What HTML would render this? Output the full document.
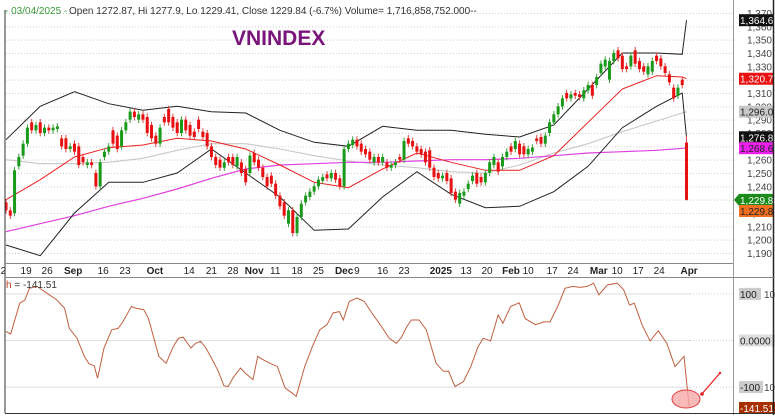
<!DOCTYPE html>
<html><head><meta charset="utf-8">
<style>
html,body{margin:0;padding:0;background:#fff;}
body{width:775px;height:415px;overflow:hidden;font-family:"Liberation Sans",sans-serif;}
svg text{font-family:"Liberation Sans",sans-serif;}
</style></head>
<body>
<svg id="chart" width="775" height="415" viewBox="0 0 775 415" xmlns="http://www.w3.org/2000/svg">
  <rect x="0" y="0" width="775" height="415" fill="#fff"/>
  <g id="grid"></g>
  <g id="oscgrid"></g>
  <g id="lines"></g>
  <g id="candles"></g>
  <g id="osc"></g>
  <g id="axis"></g>
  <g id="labels"></g>
  <line x1="5" y1="10" x2="5" y2="413" stroke="#333" stroke-width="1"/>
  <line x1="733.5" y1="0" x2="733.5" y2="415" stroke="#999" stroke-width="1"/>
  <line x1="773.5" y1="0" x2="773.5" y2="415" stroke="#222" stroke-width="1.5"/>
  <line x1="5" y1="263.5" x2="733" y2="263.5" stroke="#888" stroke-width="1"/>
  <line x1="5" y1="277.5" x2="775" y2="277.5" stroke="#888" stroke-width="1"/>
  <line x1="5" y1="413.5" x2="775" y2="413.5" stroke="#333" stroke-width="1"/>
  <text x="5" y="14" font-size="10" fill="#3a9a3a">- 03/04/2025 -</text>
  <text x="69" y="14" font-size="10" fill="#333">Open 1272.87, Hi 1277.9, Lo 1229.41, Close 1229.84 (-6.7%) Volume= 1,716,858,752.000--</text>
  <text x="232" y="45" font-size="21" font-weight="bold" fill="#7a147a">VNINDEX</text>
  <text x="6" y="288" font-size="10" fill="#333"><tspan fill="#c04020">h</tspan> = -141.51</text>
  <ellipse cx="686" cy="399" rx="14" ry="9" fill="#f6a8a8" fill-opacity="0.8" stroke="#e04040" stroke-width="1"/>
  <line x1="701" y1="395" x2="720" y2="373" stroke="#e02020" stroke-width="1.2"/>
  <circle cx="702" cy="394" r="1.8" fill="#e02020"/>
  <circle cx="720" cy="373" r="1.2" fill="#e02020"/>
</svg>
<script>
const opens=[1228,1222,1220,1255,1263,1272,1288,1282,1288,1280,1284,1282,1283,1276,1276,1268,1272,1270,1262,1256,1258,1250,1240,1262,1266,1282,1278,1270,1282,1290,1296,1290,1294,1292,1286,1278,1272,1292,1298,1292,1288,1280,1290,1286,
1281,1290,1281,1280,1270,1262,1260,1254,1262,1262,1255,1258,1253,1250,1265,1260,1254,1247,1248,1242,1233,1228,1212,1222,1205,1217,1228,1232,1236,1240,1244,1249,1246,1250,1246,1240,1268,1271,1275,1272,1268,1266,1258,1262,1258,1258,1254,1256,1262,1260,1276,1274,1270,1268,1266,1267,1254,1250,1246,1250,1246,1236,1227,1233,1238,1244,1250,1247,1243,1250,1256,1258,1255,1262,1270,1268,1272,1270,1264,1266,1276,1277,1272,1280,1288,1294,1300,1310,1306,1310,1309,1306,1312,1316,1316,1325,1330,1320,1334,1342,1338,1330,1330,1342,1334,1330,1324,1326,1338,1336,1330,1324,1314,1308,1320,1272.87];
const closes=[1222,1218,1252,1262,1272,1284,1282,1286,1280,1284,1282,1284,1285,1270,1268,1270,1266,1256,1258,1258,1256,1240,1258,1266,1270,1272,1268,1282,1288,1296,1292,1294,1290,1280,1276,1272,1284,1288,1288,1284,1280,1290,1282,1278,
1277,1283,1277,1270,1262,1256,1254,1258,1258,1256,1262,1250,1243,1263,1258,1254,1247,1240,1242,1233,1225,1218,1222,1205,1217,1227,1233,1236,1240,1245,1247,1246,1250,1245,1240,1268,1272,1275,1270,1266,1264,1260,1262,1258,1262,1254,1256,1258,1260,1274,1272,1270,1266,1264,1258,1254,1247,1246,1248,1244,1235,1230,1235,1236,1242,1248,1242,1243,1250,1258,1262,1251,1262,1266,1266,1274,1264,1264,1268,1269,1274,1272,1278,1288,1294,1300,1306,1306,1309,1308,1307,1312,1316,1308,1322,1332,1335,1334,1340,1336,1328,1328,1338,1332,1328,1326,1330,1334,1334,1330,1325,1318,1306,1314,1316,1229.84];
const lineDays=[0,8,16,24,32,40,48,56,64,72,80,88,96,104,112,120,128,136,144,152,158,159];
const ma20=[1230,1245,1262,1269,1271,1276,1274,1268,1256,1243,1239,1253,1265,1258,1252,1252,1263,1288,1313,1323,1322,1320.7];
const bbUpper=[1275,1300,1311,1302,1297,1300,1296,1295,1282,1273,1270,1285,1282,1282,1279,1277,1286,1313,1340,1340,1339,1364.6];
const bbLower=[1196,1188,1220,1243,1243,1250,1268,1250,1232,1207,1208,1232,1251,1234,1224,1225,1236,1255,1284,1300,1310,1276.8];
const ma50=[1260,1257,1257,1258,1261,1267,1272,1272,1268,1263,1259,1256,1254,1251,1250,1256,1265,1272,1281,1289,1295,1296];
const ma200=[1206,1212,1218,1225,1231,1238,1246,1253,1256,1257,1258,1258,1259,1260,1260,1261,1263,1265,1266,1267,1268.5,1268.6];
const cciDays=[0,1.1,3.2,4.4,5.5,7.3,9,11.9,13.7,14.8,16.6,18.3,19.4,20.6,21.4,22.9,24.7,26.2,27.3,29.3,30.4,32.2,33.3,35.7,37.4,39.1,40.3,41.4,43.2,44.3,45.5,46.7,48.2,49.6,50.9,51.9,53,54.8,55.9,57.7,58.8,60,61.7,63.4,65.2,66.9,67.8,69.8,71.6,73.3,75,76.4,77.9,78.8,80.2,82,83.7,85.5,87.8,89.5,91.2,92.4,93.6,94.7,96.5,98.2,100.5,102.2,103.4,104.9,106.9,108.6,110.3,111.5,113.2,115,116.1,117.9,119.9,121.3,123.7,125.7,127.1,128.9,130.6,132.4,134.1,135.8,137.3,138.5,140.5,142.8,144.3,145.7,146.8,148.6,150.5,152.4,154.4,156.3,158.4,159.6];
const cciVals=[19,14,80,87,112,116,105,87,69,26,5,-34,-50,-54,-81,-16,23,26,40,73,69,66,47,-34,-49,-13,5,7,-16,-6,-2,-16,-41,-66,-97,-99,-81,-59,-70,-84,-34,-41,-49,-56,-102,-113,-120,-56,-13,23,34,59,62,44,84,91,84,59,29,5,-6,7,29,44,44,23,-49,-66,-66,-99,-88,-56,-13,5,-1,55,37,73,81,47,34,40,40,73,112,116,114,116,123,98,119,123,109,76,80,34,-1,21,-6,-56,-34,-141.51];
const priceTicks=[1370,1360,1350,1340,1330,1320,1310,1300,1290,1280,1270,1260,1250,1240,1230,1220,1210,1200,1190];
const dateLabels=["2","19","26","Sep","16","23","Oct","14","21","28","Nov","11","18","25","Dec","9","16","23","2025","13","20","Feb","10","17","24","Mar","10","17","24","Apr"];
const dateLabelDays=[-0.6,4.7,9.6,15.7,22.7,27.8,34.8,42.8,48,53,58,62.9,68,73,79,82,88,93,101.6,107.5,112.4,118,122,127.6,132.5,138.5,142.8,147.7,152.6,159.6];
const boldLabels=["Sep","Oct","Nov","Dec","2025","Feb","Mar","Apr"];

const NS="http://www.w3.org/2000/svg";
function xAt(d){return 6+d*4.28;}
function yP(p){return 13+(1370-p)*1.3333;}
function yO(v){return 340.5-v*0.466;}
function mk(tag,attrs,parent){const e=document.createElementNS(NS,tag);for(const k in attrs)e.setAttribute(k,attrs[k]);parent.appendChild(e);return e;}

const grid=document.getElementById('grid');
priceTicks.forEach(p=>{
  const l=mk('line',{x1:6,x2:733,y1:yP(p)+0.5,y2:yP(p)+0.5,stroke:'#ccc','stroke-dasharray':'1,2'},grid);
  
  
});
const og=document.getElementById('oscgrid');
[100,0,-100].forEach(v=>{
  const l=mk('line',{x1:6,x2:690,y1:yO(v),y2:yO(v),stroke:'#ddd'},og);
  
  
  mk('line',{x1:690,x2:733,y1:yO(v),y2:yO(v),stroke:'#ccc','stroke-dasharray':'1,2'},og);
});

const lines=document.getElementById('lines');
function poly(vals,color,name,w){
  const pts=vals.map((v,i)=>xAt(lineDays[i]).toFixed(1)+','+yP(v).toFixed(1)).join(' ');
  const e=mk('polyline',{points:pts,fill:'none',stroke:color,'stroke-width':w},lines);
  
  
}
poly(ma50,'#c8c8c8','ma50-line',1.1);
poly(ma200,'#e040e0','ma200-line',1.2);
poly(bbUpper,'#222','bollinger-upper',1);
poly(bbLower,'#222','bollinger-lower',1);
poly(ma20,'#e82020','ma20-line',1);

const cg=document.getElementById('candles');
opens.forEach((o,i)=>{
  const c=closes[i];const up=c>=o;const col=up?'#1a9a1a':'#e81010';
  const x=xAt(i);
  const hi=i===159?1277.9:Math.max(o,c)+2.5, lo=i===159?1229.41:Math.min(o,c)-2.5;
  const w=mk('line',{x1:x,x2:x,y1:yP(hi),y2:yP(lo),stroke:up?'#3aa03a':'#e04040','stroke-width':1},cg);
  
  
  const top=yP(Math.max(o,c)),h=Math.max(1,yP(Math.min(o,c))-top);
  const b=mk('rect',{x:x-1.5,y:top,width:3,height:h,fill:col},cg);
  
  
});

const osc=document.getElementById('osc');
const op=mk('polyline',{points:cciVals.map((v,i)=>xAt(cciDays[i]).toFixed(1)+','+yO(v).toFixed(1)).join(' '),fill:'none',stroke:'#c06040','stroke-width':1},osc);



const ax=document.getElementById('axis');
dateLabels.forEach((t,i)=>{
  const e=mk('text',{x:xAt(dateLabelDays[i]),y:274,'font-size':10,fill:'#222','text-anchor':'middle','font-weight':boldLabels.includes(t)?'bold':'normal'},ax);
  e.textContent=t;
  
  
});

const lb=document.getElementById('labels');
priceTicks.forEach(p=>{
  const t=mk('text',{x:772,y:yP(p)+4,'font-size':10,fill:'#444','text-anchor':'end'},lb);
  t.textContent=p.toLocaleString('en-US');
  
  
});
const boxes=[[1364.6,'1,364.6','#111','#fff'],[1320.7,'1,320.7','#e81010','#fff'],[1296.0,'1,296.0','#c8c8c8','#222'],[1276.8,'1,276.8','#111','#fff'],[1268.6,'1,268.6','#ee20ee','#222'],[1229.84,'1,229.8','#1a8a1a','#fff'],[1221.5,'1,229.8','#f07020','#222']];
boxes.forEach(b=>{
  const y=yP(b[0]);
  const r=mk('rect',{x:739,y:y-6,width:35,height:12,fill:b[2]},lb);
  
  
  const t=mk('text',{x:740,y:y+4,'font-size':10,fill:b[3]},lb);
  t.textContent=b[1];
});
mk('polygon',{points:'734,'+yP(1229.84)+' 739,'+(yP(1229.84)-6)+' 739,'+(yP(1229.84)+6),fill:'#1a8a1a'},lb);
const ob=[[100,'100','#ccc','#222',22],[0,'0.0000','#ddd','#222',36],[-100,'-100','#ccc','#222',24],[-141.51,'-141.51','#a83000','#fff',36]];
ob.forEach(b=>{
  const y=b[0]===-141.51?408:yO(b[0]);
  const r=mk('rect',{x:739,y:y-6,width:b[4],height:12,fill:b[2]},lb);
  
  
  const t=mk('text',{x:740,y:y+4,'font-size':10,fill:b[3]},lb);
  t.textContent=b[1];
  if(b[0]===100||b[0]===-100){const t2=mk('text',{x:764,y:y+4,'font-size':10,fill:'#444'},lb);t2.textContent='100';}
});
</script>
</body></html>
